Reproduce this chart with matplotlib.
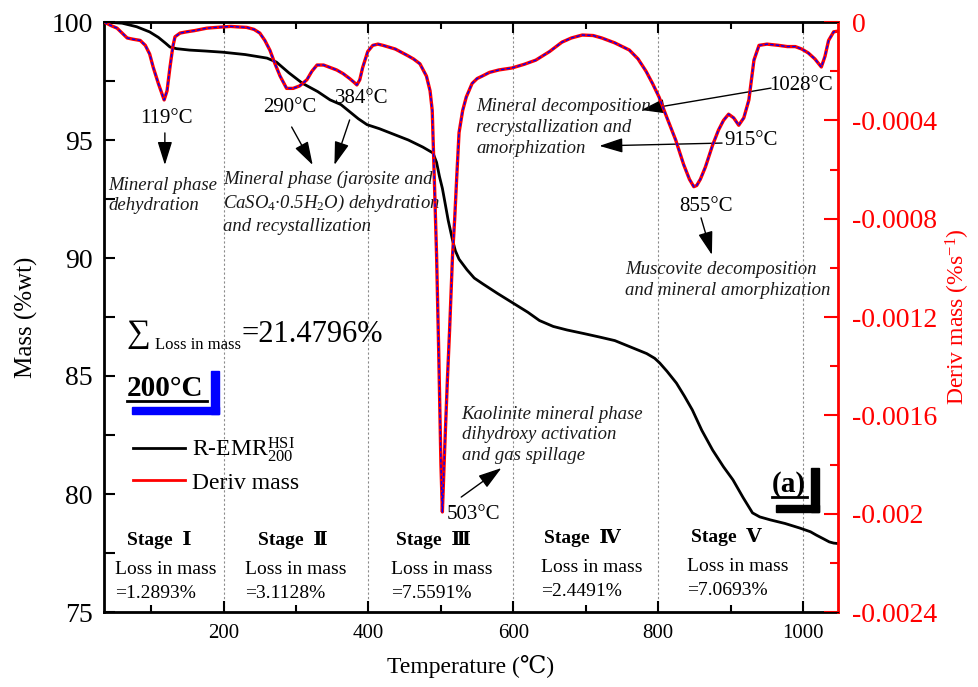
import numpy as np
import matplotlib
matplotlib.use('Agg')
import matplotlib.pyplot as plt
from matplotlib.patches import Rectangle
from matplotlib.lines import Line2D
from matplotlib.ticker import MultipleLocator, FuncFormatter

plt.rcParams['font.family'] = ['Liberation Serif', 'DejaVu Serif', 'Noto Sans CJK SC']
plt.rcParams['mathtext.fontset'] = 'custom'
plt.rcParams['mathtext.rm'] = 'Liberation Serif'
plt.rcParams['mathtext.it'] = 'Liberation Serif:italic'
plt.rcParams['mathtext.bf'] = 'Liberation Serif:bold'

# TG curve: temperature (C) and residual mass (%)
temp_tg = [35, 60, 80, 98, 110, 120, 126, 135, 153, 175, 199, 230, 260, 273, 290, 309,
           330, 347, 362, 374, 386, 398, 415, 430, 455, 475, 489, 494, 498, 502, 505,
           510, 516, 520, 525, 536, 546, 558, 578, 599, 620, 636, 655, 674, 697, 719,
           740, 756, 772, 784, 795, 802, 812, 825, 836, 847, 860, 875, 890, 903, 917,
           930, 940, 955, 975, 995, 1010, 1018, 1028, 1036, 1042, 1048]
mass = [100.0, 99.95, 99.8, 99.58, 99.35, 99.1, 98.94, 98.87, 98.81, 98.77, 98.72, 98.62,
        98.47, 98.3, 97.85, 97.4, 97.05, 96.7, 96.5, 96.2, 95.9, 95.65, 95.48, 95.3, 95.0,
        94.7, 94.45, 94.05, 93.45, 92.95, 92.45, 91.6, 90.76, 90.3, 89.95, 89.5, 89.15,
        88.9, 88.5, 88.1, 87.7, 87.35, 87.1, 86.95, 86.8, 86.65, 86.5, 86.3, 86.1, 85.95,
        85.75, 85.55, 85.2, 84.7, 84.15, 83.56, 82.7, 81.86, 81.15, 80.6, 79.85, 79.2,
        79.03, 78.9, 78.75, 78.56, 78.4, 78.26, 78.1, 77.97, 77.92, 77.9]

# DTG curve: temperature (C) and derivative mass (%/s)
temp_dtg = [35, 45, 53, 60, 67, 75, 85, 92, 98, 103, 110, 118, 122, 126, 130, 133, 140,
            149, 160, 177, 190, 199, 210, 220, 232, 242, 250, 257, 264, 271, 278, 287,
            296, 305, 315, 322, 329, 338, 347, 356, 365, 374, 380, 384, 388, 392, 399,
            406, 413, 420, 437, 453, 462, 471, 480, 485, 488, 491, 494, 497, 500, 502,
            505, 509, 512, 516, 519, 522, 525, 530, 535, 543, 550, 557, 567, 580, 598,
            615, 631, 650, 667, 680, 695, 710, 722, 740, 760, 772, 783, 792, 801, 812,
            824, 835, 843, 849, 853, 858, 865, 875, 883, 890, 897, 904, 911, 918, 925,
            932, 939, 950, 966, 978, 989, 998, 1007, 1016, 1025, 1030, 1035, 1042, 1048]
dtg = [0.0, -0.15, -0.25, -0.45, -0.65, -0.7, -0.75, -0.95, -1.3, -1.85, -2.5, -3.17,
       -2.8, -1.85, -1.0, -0.6, -0.45, -0.4, -0.35, -0.25, -0.22, -0.2, -0.18, -0.2,
       -0.22, -0.3, -0.45, -0.75, -1.15, -1.7, -2.2, -2.7, -2.7, -2.6, -2.35, -2.0,
       -1.75, -1.75, -1.85, -1.95, -2.1, -2.3, -2.45, -2.56, -2.35, -1.85, -1.2, -0.95,
       -0.9, -0.95, -1.1, -1.35, -1.5, -1.7, -2.2, -2.8, -3.6, -6.5, -9.5, -13.5, -18.0,
       -19.93, -17.5, -14.5, -12.5, -9.5, -8.0, -6.2, -4.5, -3.6, -3.05, -2.5, -2.3,
       -2.2, -2.05, -1.95, -1.87, -1.72, -1.55, -1.2, -0.82, -0.65, -0.53, -0.55, -0.65,
       -0.85, -1.14, -1.5, -2.0, -2.5, -3.05, -3.9, -4.8, -5.8, -6.4, -6.7, -6.65, -6.4,
       -5.9, -5.0, -4.4, -4.0, -3.75, -3.9, -4.2, -3.9, -3.17, -1.55, -0.95, -0.9, -0.95,
       -1.0, -1.0, -1.1, -1.26, -1.5, -1.83, -1.4, -0.75, -0.4, -0.37]
dtg = np.array(dtg) * 1e-4

stage_bounds = [200, 400, 600, 800, 1000]
stage_names = ['Stage  Ⅰ', 'Stage  Ⅱ', 'Stage  Ⅲ', 'Stage  Ⅳ', 'Stage  Ⅴ']
stage_loss = ['1.2893', '3.1128', '7.5591', '2.4491', '7.0693']
total_loss = '21.4796'

W, H = 979, 687


def fpos(x, y):
    return x / W, 1 - y / H


fig = plt.figure(figsize=(W / 100, H / 100), dpi=100)
ax = fig.add_axes([104 / W, 1 - 612 / H, 734 / W, 590 / H])

ax.plot(temp_tg, mass, color='k', lw=2)
for t in stage_bounds:
    ax.axvline(t, color='0.55', lw=0.8, ls=(0, (2, 2)), zorder=0)
ax.set_xlim(35, 1048)
ax.set_ylim(75, 100)

ax2 = ax.twinx()
ax2.plot(temp_dtg, dtg, color='red', lw=2.4)
ax2.plot(temp_dtg, dtg, color='blue', lw=1.0, ls=(0, (2.5, 1.5)))
ax2.set_ylim(-0.0024, 0)

# axes, ticks
ax.xaxis.set_major_locator(MultipleLocator(200))
ax.xaxis.set_minor_locator(MultipleLocator(100))
ax.yaxis.set_major_locator(MultipleLocator(5))
ax.yaxis.set_minor_locator(MultipleLocator(2.5))
ax.tick_params(axis='x', which='both', direction='in', top=True, width=1.5)
ax.tick_params(axis='x', which='major', length=8, labelsize=15, pad=9)
ax.tick_params(axis='x', which='minor', length=5)
ax.tick_params(axis='y', which='both', direction='in', length=8, width=1.5,
               labelsize=20, pad=8)
for s in ['left', 'bottom', 'top']:
    ax.spines[s].set_linewidth(2)
ax.set_xlabel('Temperature (℃)', fontsize=17, labelpad=8)
ax.set_ylabel('Mass (%wt)', fontsize=18, labelpad=10)

ax2.yaxis.set_major_locator(MultipleLocator(0.0004))
ax2.yaxis.set_minor_locator(MultipleLocator(0.0002))
ax2.yaxis.set_major_formatter(FuncFormatter(lambda v, p: '0' if abs(v) < 1e-12 else f'{v:g}'))
ax2.tick_params(axis='y', which='both', direction='in', colors='red', width=1.5,
                labelsize=20, pad=10)
ax2.tick_params(axis='y', which='major', length=10)
ax2.tick_params(axis='y', which='minor', length=6)
ax2.spines['right'].set_color('red')
ax2.spines['right'].set_linewidth(2)
ax2.spines['left'].set_visible(False)
ax2.set_ylabel('Deriv mass (%s$^{-1}$)', fontsize=17, color='red', labelpad=5)

# peak labels and arrows
arrow = dict(arrowstyle='-|>,head_length=0.8,head_width=0.25', color='k', lw=1,
             mutation_scale=18, shrinkA=0, shrinkB=0)
peaks = [('119°C', 121.8, 95.93), ('290°C', 291, 96.36), ('384°C', 390.6, 96.74),
         ('1028°C', 997, 97.33), ('915°C', 928, 94.96), ('855°C', 866, 92.2)]
for s, x, y in peaks:
    ax.text(x, y, s, fontsize=15, ha='center', va='center')
ax.text(507.7, 79.15, '503°C', fontsize=15, ha='left', va='center')

arrows = [((119, 95.3), (119, 93.94)), ((294, 95.55), (323, 93.94)),
          ((374, 95.85), (353, 93.94)), ((955.6, 97.2), (776.5, 96.27)),
          ((888, 94.87), (718.6, 94.75)), ((859, 91.7), (874, 90.13)),
          ((528, 79.87), (583.5, 81.1))]
for tail, head in arrows:
    ax.annotate('', xy=head, xytext=tail, arrowprops=arrow)

notes = [(40.5, 92.65, 'Mineral phase\ndehydration'),
         (199, 92.33, 'Mineral phase (jarosite and\nCaSO$_{\\mathit{4}}$·0.5H$_{\\mathit{2}}$O) dehydration\nand recystallization'),
         (549, 95.53, 'Mineral decomposition\nrecrystallization and\namorphization'),
         (754.4, 89.05, 'Muscovite decomposition\nand mineral amorphization'),
         (528.4, 82.5, 'Kaolinite mineral phase\ndihydroxy activation\nand gas spillage')]
for x, y, s in notes:
    ax.text(x, y, s, fontsize=13.5, style='italic', ha='left', va='center',
            linespacing=1.3, color='0.1')

# stage summaries
stage_x = [110.8, 295.5, 489.8, 695, 893.6]
loss_x = [50, 229, 430.5, 638.6, 839.8]
stage_dy = [0, 0, 0, 0.08, 0.12]
for name, lx, sx, loss, dy in zip(stage_names, loss_x, stage_x, stage_loss, stage_dy):
    ax.text(sx, 78.05 + dy, name, fontsize=14, weight='bold', ha='center', va='center')
    ax.text(lx, 76.82 + dy, 'Loss in mass', fontsize=14, ha='left', va='center')
    ax.text(lx, 75.8 + dy, '=' + loss + '%', fontsize=14, ha='left', va='center')

# total loss
ax.text(83, 86.78, '∑', fontsize=24, ha='center', va='center')
ax.text(105, 86.3, 'Loss in mass', fontsize=12, ha='left', va='center')
ax.text(225, 86.74, '=' + total_loss + '%', fontsize=22, ha='left', va='center')

# sample tags with corner brackets
fig.text(*fpos(127, 388), '200°C', fontsize=21, weight='bold', ha='left', va='center')
fig.add_artist(Line2D([127 / W, 207 / W], [1 - 401 / H] * 2, color='k', lw=2))
fig.add_artist(Rectangle(fpos(211, 414), 8 / W, 43 / H, color='blue'))
fig.add_artist(Rectangle(fpos(132, 414), 87 / W, 7 / H, color='blue'))

fig.text(*fpos(772, 484), '(a)', fontsize=21, weight='bold', ha='left', va='center')
fig.add_artist(Line2D([772 / W, 807 / W], [1 - 497 / H] * 2, color='k', lw=2))
fig.add_artist(Rectangle(fpos(811, 512), 8 / W, 44 / H, color='k'))
fig.add_artist(Rectangle(fpos(776, 512), 43 / W, 7 / H, color='k'))

handles = [Line2D([], [], color='k', lw=2), Line2D([], [], color='red', lw=2)]
ax2.legend(handles, ['R-EMR$_{200}^{\\mathrm{HSI}}$', 'Deriv mass'], loc='upper left',
           bbox_to_anchor=fpos(133, 435), bbox_transform=fig.transFigure,
           frameon=False, fontsize=17, handlelength=2.2, handletextpad=0.3,
           labelspacing=0.35, borderpad=0, borderaxespad=0)

fig.savefig('out.png', dpi=100)
